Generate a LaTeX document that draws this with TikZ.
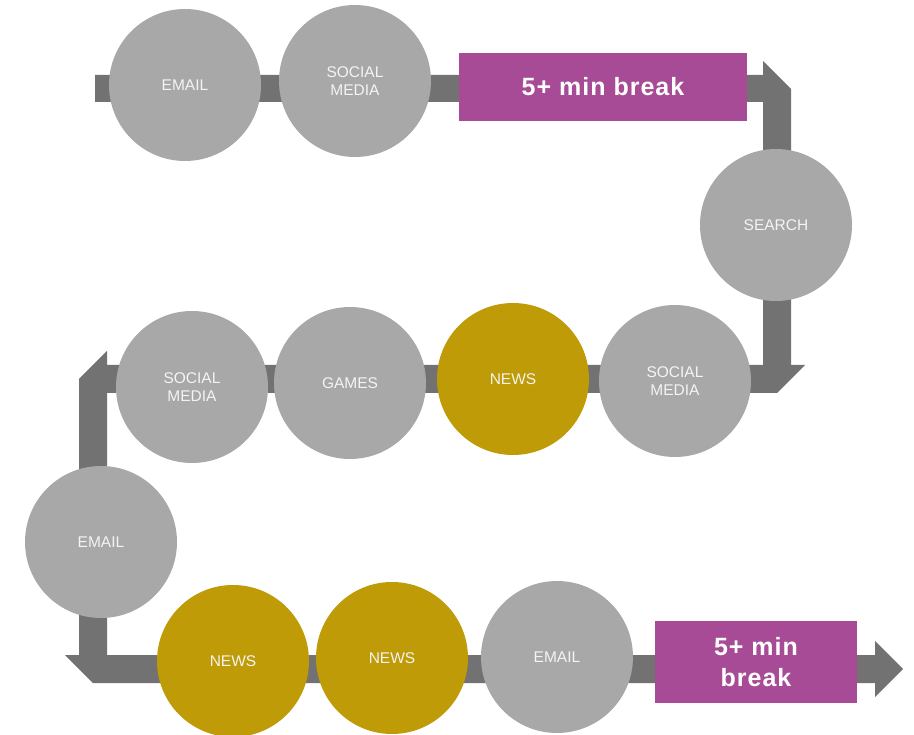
\documentclass[tikz,border=0pt]{standalone}
\usepackage{fontspec}
\setmainfont{Liberation Sans}
\newfontfamily\breakfont[LetterSpace=4]{Liberation Sans Bold}
\definecolor{bandgray}{RGB}{114,114,114}
\definecolor{circgray}{RGB}{168,168,168}
\definecolor{newsgold}{RGB}{191,155,8}
\definecolor{breakpurple}{RGB}{168,75,150}
\definecolor{labeltext}{RGB}{244,244,244}
\begin{document}
\begin{tikzpicture}[x=1pt,y=-1pt,
  act/.style={circle, fill=circgray, draw=none, minimum size=152pt, inner sep=0pt,
    text=labeltext, align=center, font=\fontsize{15.5}{18}\selectfont},
  newsact/.style={act, fill=newsgold},
  brkbox/.style={rectangle, fill=breakpurple, draw=none, inner sep=0pt,
    text=white, align=center, font=\breakfont\fontsize{25}{31}\selectfont},
  band/.style={fill=bandgray, draw=none}]
\useasboundingbox (0,0) rectangle (914,735);
\clip (0,0) rectangle (914,735);
% the winding arrow band
\fill[bandgray] (95,75) -- (763,75) -- (763,61) -- (791,89) -- (791,365) -- (805,365)
  -- (777,393) -- (107,393) -- (107,655) -- (875,655) -- (875,641) -- (903,669)
  -- (875,697) -- (875,683) -- (93,683) -- (65,655) -- (79,655) -- (79,379)
  -- (107,351) -- (107,365) -- (763,365) -- (763,102) -- (95,102) -- cycle;
% row 1
\node[act] (email1) at (185,85) {EMAIL};
\node[act] (social1) at (355,81) {SOCIAL\\MEDIA};
\node[brkbox, minimum width=288pt, minimum height=68pt] (break1) at (603,87) {5+ min break};
% right column
\node[act] (search) at (776,225) {SEARCH};
% row 2
\node[act] (social2) at (675,381) {SOCIAL\\MEDIA};
\node[newsact] (news1) at (513,379) {NEWS};
\node[act] (games) at (350,383) {GAMES};
\node[act] (social3) at (192,387) {SOCIAL\\MEDIA};
% left column
\node[act] (email2) at (101,542) {EMAIL};
% row 3
\node[newsact] (news2) at (233,661) {NEWS};
\node[newsact] (news3) at (392,658) {NEWS};
\node[act] (email3) at (557,657) {EMAIL};
\node[brkbox, minimum width=202pt, minimum height=82pt] (break2) at (756,662) {5+ min\\break};
\end{tikzpicture}
\end{document}
